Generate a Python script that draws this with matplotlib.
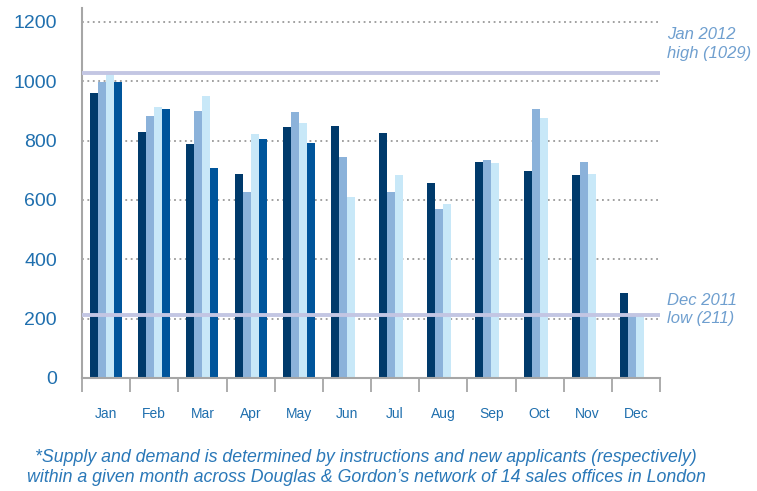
import numpy as np
import matplotlib
matplotlib.use("Agg")
import matplotlib.pyplot as plt

plt.rcParams["font.family"] = ["Liberation Sans", "DejaVu Sans"]

months = ["Jan", "Feb", "Mar", "Apr", "May", "Jun", "Jul", "Aug", "Sep", "Oct", "Nov", "Dec"]

# four series (fourth one only runs Jan-May)
series1 = [962, 830, 788, 686, 846, 848, 827, 657, 729, 696, 683, 286]
series2 = [997, 884, 900, 627, 897, 745, 627, 570, 735, 907, 729, 211]
series3 = [1035, 913, 952, 823, 859, 611, 683, 587, 725, 875, 686, 213]
series4 = [997, 907, 709, 804, 791, np.nan, np.nan, np.nan, np.nan, np.nan, np.nan, np.nan]

high_value = 1029
low_value = 211
high_label = "Jan 2012\nhigh (1029)"
low_label = "Dec 2011\nlow (211)"

footnote = ("*Supply and demand is determined by instructions and new applicants (respectively)\n"
            "within a given month across Douglas & Gordon\u2019s network of 14 sales offices in London")

colors = ["#003a6b", "#8bb2da", "#c8e8f8", "#00559b"]
label_blue = "#1f6fae"
note_blue = "#6f9fcf"
spine_grey = "#a6a6a6"

fig = plt.figure(figsize=(7.57, 4.91), dpi=100)
ax = fig.add_axes([82 / 757, 113 / 491, 578 / 757, 370 / 491])

x = np.arange(len(months))
w = 0.166
for i, vals in enumerate([series1, series2, series3, series4]):
    ax.bar(x + (i - 1.5) * w, vals, width=w, color=colors[i], zorder=2, linewidth=0)

ax.set_xlim(-0.5, len(months) - 0.5)
ax.set_ylim(0, 1247)

# dotted grid
ax.set_yticks([0, 200, 400, 600, 800, 1000, 1200])
ax.yaxis.grid(True, linestyle=(0, (1, 2)), color="#9a9a9a", linewidth=1.3, zorder=1)
ax.set_axisbelow(True)

# high / low reference lines
ax.axhline(high_value, color="#c3c6e3", linewidth=2.8, zorder=3)
ax.axhline(low_value, color="#c3c6e3", linewidth=2.8, zorder=3)
ax.text(1.012, high_value + 96, high_label, transform=ax.get_yaxis_transform(),
        fontsize=12, style="italic", color=note_blue, va="center", ha="left", linespacing=1.3)
ax.text(1.012, low_value + 20, low_label, transform=ax.get_yaxis_transform(),
        fontsize=12, style="italic", color=note_blue, va="center", ha="left", linespacing=1.3)

# ticks: marks at group edges, labels at group centres
ax.set_xticks(np.arange(-0.5, len(months)), minor=False)
ax.set_xticklabels([])
ax.set_xticks(x, minor=True)
ax.set_xticklabels(months, minor=True)
ax.tick_params(axis="x", which="major", length=10, width=1.3, color=spine_grey)
ax.tick_params(axis="x", which="minor", length=0, pad=21, labelsize=10, labelcolor=label_blue)
ax.tick_params(axis="y", length=0, pad=18, labelsize=14, labelcolor=label_blue)

for s in ["top", "right"]:
    ax.spines[s].set_visible(False)
for s in ["left", "bottom"]:
    ax.spines[s].set_color(spine_grey)
    ax.spines[s].set_linewidth(1.5)

fig.text(366 / 757, 1 - 467.5 / 491, footnote, ha="center", va="center", fontsize=12.8,
         style="italic", color="#2a78b8", linespacing=1.24)

fig.savefig("out.png", dpi=100)
